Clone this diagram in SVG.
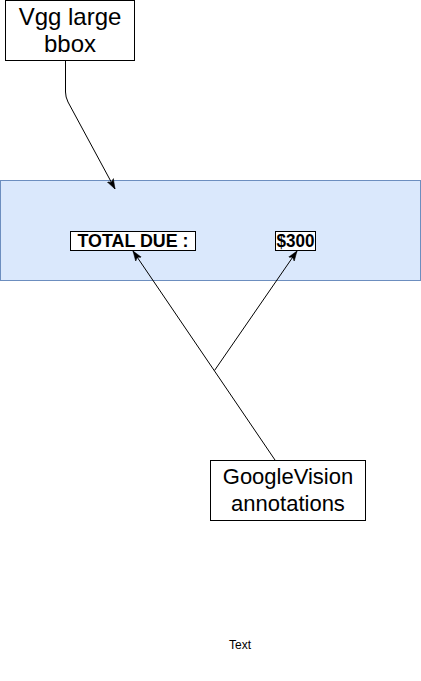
<svg xmlns="http://www.w3.org/2000/svg" width="421" height="681" viewBox="0 0 421 681">
<style>
.box{fill:#ffffff;stroke:#000000;stroke-width:1}
.lbl{font-family:"Liberation Sans",Arial,sans-serif;fill:#000000;text-anchor:middle}
.bold{font-weight:bold;font-size:17.5px}
.edge{fill:none;stroke:#000000;stroke-width:1}
</style>
<defs>
<marker id="arr" viewBox="0 0 10 10" refX="10" refY="5" markerWidth="10" markerHeight="10" markerUnits="userSpaceOnUse" orient="auto">
<path d="M0 1.5 L10 5 L0 8.5 L2.5 5 Z" fill="#000000" stroke="#000000" stroke-width="0.5"/>
</marker>
</defs>
<rect width="421" height="681" fill="#ffffff"/>
<g id="region">
<rect x="0.5" y="180.5" width="420" height="100" fill="#dae8fc" stroke="#6c8ebf" stroke-width="1"/>
</g>
<g id="vgg">
<rect class="box" x="5.5" y="0.5" width="129" height="60"/>
<text class="lbl" x="70" y="25" font-size="24">Vgg large</text>
<text class="lbl" x="70" y="52" font-size="24">bbox</text>
</g>
<g id="total">
<rect class="box" x="70.5" y="231.5" width="125" height="19"/>
<text class="lbl bold" x="133" y="247" textLength="111" lengthAdjust="spacingAndGlyphs">TOTAL DUE :</text>
</g>
<g id="amount">
<rect class="box" x="275.5" y="231.5" width="40" height="19"/>
<text class="lbl bold" x="295.5" y="247" textLength="38" lengthAdjust="spacingAndGlyphs">$300</text>
</g>
<g id="google">
<rect class="box" x="210.5" y="460.5" width="155" height="60"/>
<text class="lbl" x="288" y="484" font-size="22">GoogleVision</text>
<text class="lbl" x="288" y="511" font-size="22">annotations</text>
</g>
<g id="note">
<text class="lbl" x="240" y="649" font-size="12">Text</text>
</g>
<g id="connectors">
<path class="edge" d="M65.5 61 L65.5 92 Q65.5 97 68 102 L115 189" marker-end="url(#arr)"/>
<path class="edge" d="M275 460 L133 251" marker-end="url(#arr)"/>
<path class="edge" d="M214.5 370.5 L297 251" marker-end="url(#arr)"/>
</g>
</svg>
